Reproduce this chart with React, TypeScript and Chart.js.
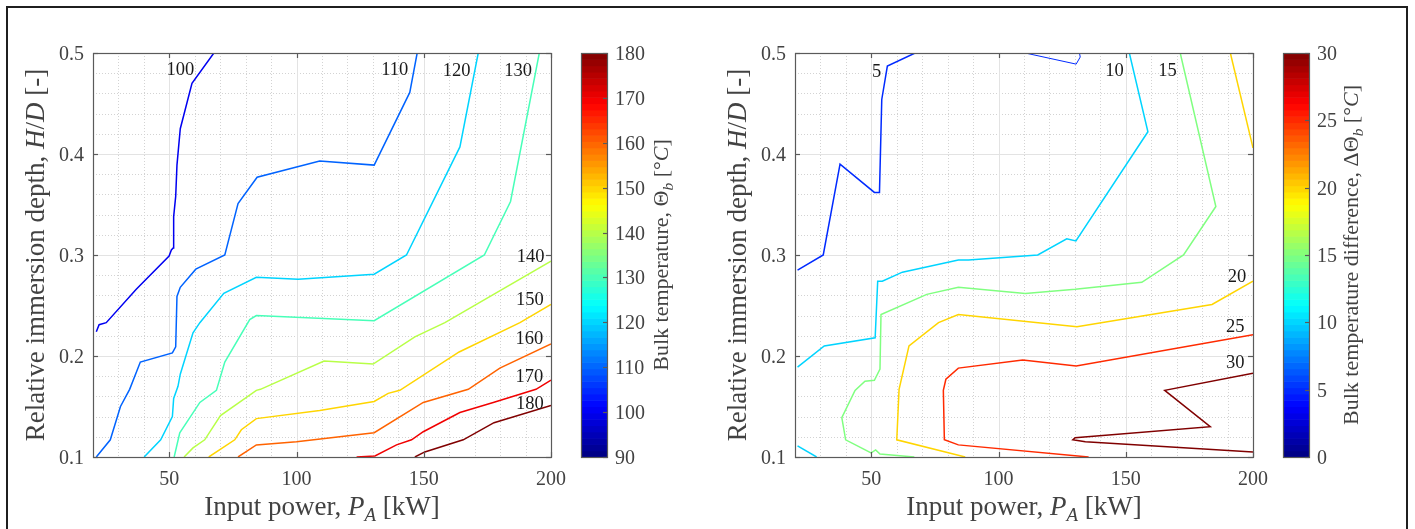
import React, { useEffect, useRef } from 'react';
import { Chart, registerables } from 'chart.js';

Chart.register(...registerables);

// ---------------- axis ticks ----------------
const xMajorTicks = [50, 100, 150, 200];
const xMinorTicks = [30, 40, 60, 70, 80, 90, 110, 120, 130, 140, 160, 170, 180, 190];
const yMajorTicks = [0.1, 0.2, 0.3, 0.4, 0.5];
const yMinorTicks = [0.12, 0.14, 0.16, 0.18, 0.22, 0.24, 0.26, 0.28, 0.32, 0.34, 0.36, 0.38, 0.42, 0.44, 0.46, 0.48];
const tempBarTicks = [90, 100, 110, 120, 130, 140, 150, 160, 170, 180];
const diffBarTicks = [0, 5, 10, 15, 20, 25, 30];

// ---------------- left panel: bulk temperature contours [P_A kW, H/D] ----------------
const temp100: [number, number][] = [[21.3, 0.224], [22.4, 0.231], [25.2, 0.233], [37.0, 0.266], [49.9, 0.299], [50.8, 0.305], [51.5, 0.307], [51.7, 0.338], [52.5, 0.358], [53.0, 0.389], [54.3, 0.425], [58.9, 0.470], [67.5, 0.5]];
const temp110: [number, number][] = [[21.3, 0.1], [26.8, 0.117], [30.8, 0.150], [34.4, 0.167], [38.6, 0.194], [51.2, 0.203], [52.5, 0.209], [53.0, 0.259], [54.3, 0.268], [60.4, 0.286], [71.8, 0.300], [77.0, 0.351], [84.5, 0.377], [109.1, 0.393], [130.5, 0.389], [144.5, 0.461], [147.4, 0.5]];
const temp120: [number, number][] = [[40.1, 0.1], [46.6, 0.117], [51.2, 0.140], [51.7, 0.158], [53.4, 0.170], [54.3, 0.182], [59.3, 0.223], [62.0, 0.233], [71.4, 0.262], [84.2, 0.278], [100.6, 0.276], [130.5, 0.281], [143.2, 0.300], [164.2, 0.407], [171.4, 0.5]];
const temp130: [number, number][] = [[51.9, 0.1], [54.1, 0.124], [62.0, 0.154], [68.5, 0.166], [71.8, 0.194], [81.6, 0.236], [84.2, 0.240], [130.5, 0.235], [173.8, 0.300], [184.1, 0.353], [195.4, 0.5]];
const temp140: [number, number][] = [[55.8, 0.1], [59.3, 0.109], [63.9, 0.117], [70.1, 0.141], [84.2, 0.166], [85.8, 0.167], [110.8, 0.195], [130.1, 0.192], [146.5, 0.219], [158.3, 0.233], [200, 0.294]];
const temp150: [number, number][] = [[65.5, 0.1], [75.7, 0.117], [78.3, 0.127], [84.2, 0.138], [109.1, 0.146], [130.5, 0.155], [136.0, 0.163], [140.6, 0.166], [163.9, 0.204], [187.8, 0.233], [200, 0.251]];
const temp160: [number, number][] = [[77.0, 0.1], [84.2, 0.112], [100.0, 0.115], [130.5, 0.124], [149.8, 0.154], [167.5, 0.167], [179.9, 0.188], [200, 0.212]];
const temp170: [number, number][] = [[123.6, 0.1], [130.8, 0.101], [139.3, 0.112], [145.2, 0.117], [149.8, 0.125], [164.2, 0.144], [177.3, 0.154], [194.1, 0.167], [200, 0.176]];
const temp180: [number, number][] = [[146.5, 0.1], [150.4, 0.105], [165.5, 0.117], [177.6, 0.134], [200, 0.151]];

const tempLabelText = ['100', '110', '120', '130', '140', '150', '160', '170', '180'];
const tempLabelP = [54.3, 138.6, 162.9, 187.1, 192.0, 191.7, 191.5, 191.5, 191.7];
const tempLabelH = [0.485, 0.4845, 0.4835, 0.4835, 0.300, 0.2574, 0.2188, 0.1805, 0.154];

// ---------------- right panel: bulk temperature difference contours ----------------
const diff5a: [number, number][] = [[21.0, 0.285], [31.1, 0.300], [37.7, 0.390], [51.2, 0.362], [53.2, 0.362], [54.1, 0.454], [56.3, 0.487], [67.2, 0.5]];
const diff5b: [number, number][] = [[110.5, 0.5], [130.5, 0.489], [132.1, 0.496], [131.8, 0.5]];
const diff10a: [number, number][] = [[21.0, 0.189], [31.5, 0.210], [51.5, 0.218], [52.5, 0.274], [54.3, 0.274], [62.2, 0.283], [84.2, 0.295], [88.2, 0.295], [115.4, 0.300], [126.8, 0.316], [130.4, 0.314], [158.7, 0.422], [151.4, 0.5]];
const diff10b: [number, number][] = [[21.0, 0.111], [28.5, 0.1]];
const diff15: [number, number][] = [[171.4, 0.5], [185.4, 0.348], [172.7, 0.300], [156.3, 0.273], [130.1, 0.266], [110.5, 0.262], [84.2, 0.268], [71.8, 0.261], [53.8, 0.241], [53.4, 0.187], [51.2, 0.176], [47.5, 0.175], [43.6, 0.166], [38.4, 0.139], [39.9, 0.117], [49.9, 0.104], [51.7, 0.107], [53.4, 0.103], [66.9, 0.1]];
const diff20a: [number, number][] = [[191.1, 0.5], [200, 0.406]];
const diff20b: [number, number][] = [[86.9, 0.1], [60.0, 0.117], [60.9, 0.167], [64.8, 0.210], [76.4, 0.233], [84.2, 0.241], [130.8, 0.229], [183.9, 0.251], [200, 0.274]];
const diff25: [number, number][] = [[135.4, 0.1], [84.2, 0.112], [78.7, 0.117], [78.3, 0.166], [79.3, 0.177], [84.2, 0.188], [109.5, 0.196], [130.5, 0.190], [200, 0.221]];
const diff30: [number, number][] = [[200, 0.183], [165.3, 0.166], [183.2, 0.130], [130.1, 0.119], [129.2, 0.117], [134.1, 0.115], [200, 0.105]];

const diffLabelText = ['5', '10', '15', '20', '25', '30'];
const diffLabelP = [52.1, 145.6, 166.4, 193.7, 193.0, 193.0];
const diffLabelH = [0.4825, 0.4835, 0.4835, 0.280, 0.230, 0.1947];

// ---------------- styling helpers ----------------
const FONT = '"Liberation Serif", "Times New Roman", serif';
const TEXT = '#424242';
const AXIS = '#5a5a5a';

function jet(t: number): string {
  const c = (v: number) => Math.round(255 * Math.max(0, Math.min(1, v)));
  return `rgb(${c(1.5 - Math.abs(4 * t - 3))},${c(1.5 - Math.abs(4 * t - 2))},${c(1.5 - Math.abs(4 * t - 1))})`;
}

type Seg = { t: string; it?: boolean; sub?: boolean };

function drawRich(ctx: CanvasRenderingContext2D, segs: Seg[], x: number, y: number, size: number, rotate: boolean, color: string) {
  ctx.save();
  ctx.translate(x, y);
  if (rotate) ctx.rotate(-Math.PI / 2);
  const fontFor = (s: Seg) => `${s.it ? 'italic ' : ''}${s.sub ? size * 0.7 : size}px ${FONT}`;
  let total = 0;
  for (const s of segs) {
    ctx.font = fontFor(s);
    total += ctx.measureText(s.t).width;
  }
  let cx = -total / 2;
  ctx.fillStyle = color;
  ctx.textAlign = 'left';
  ctx.textBaseline = 'alphabetic';
  for (const s of segs) {
    ctx.font = fontFor(s);
    ctx.fillText(s.t, cx, s.sub ? size * 0.22 : 0);
    cx += ctx.measureText(s.t).width;
  }
  ctx.restore();
}

interface PanelCfg {
  id: string;
  area: { left: number; top: number; right: number; bottom: number };
  cbLeft: number;
  cbRight: number;
  cbMin: number;
  cbMax: number;
  cbTicks: number[];
  contours: { level: number; pts: [number, number][]; width?: number }[];
  labelText: string[];
  labelP: number[];
  labelH: number[];
  yTitleX: number;
  cbTitleX: number;
  cbTitle: Seg[];
}

const yTitle: Seg[] = [{ t: 'Relative immersion depth, ' }, { t: 'H', it: true }, { t: '/' }, { t: 'D', it: true }, { t: ' [-]' }];
const xTitle: Seg[] = [{ t: 'Input power, ' }, { t: 'P', it: true }, { t: 'A', it: true, sub: true }, { t: ' [kW]' }];

const leftCfg: PanelCfg = {
  id: 'left',
  area: { left: 93, top: 53, right: 551, bottom: 457 },
  cbLeft: 581,
  cbRight: 607,
  cbMin: 90,
  cbMax: 180,
  cbTicks: tempBarTicks,
  contours: [
    { level: 100, pts: temp100 },
    { level: 110, pts: temp110 },
    { level: 120, pts: temp120 },
    { level: 130, pts: temp130 },
    { level: 140, pts: temp140 },
    { level: 150, pts: temp150 },
    { level: 160, pts: temp160 },
    { level: 170, pts: temp170 },
    { level: 180, pts: temp180 },
  ],
  labelText: tempLabelText,
  labelP: tempLabelP,
  labelH: tempLabelH,
  yTitleX: 44,
  cbTitleX: 668,
  cbTitle: [{ t: 'Bulk temperature, Θ' }, { t: 'b', it: true, sub: true }, { t: ' [°' }, { t: 'C', it: true }, { t: ']' }],
};

const rightCfg: PanelCfg = {
  id: 'right',
  area: { left: 795, top: 53, right: 1253, bottom: 457 },
  cbLeft: 1283,
  cbRight: 1309,
  cbMin: 0,
  cbMax: 30,
  cbTicks: diffBarTicks,
  contours: [
    { level: 5, pts: diff5a },
    { level: 5, pts: diff5b, width: 1 },
    { level: 10, pts: diff10a },
    { level: 10, pts: diff10b },
    { level: 15, pts: diff15 },
    { level: 20, pts: diff20a },
    { level: 20, pts: diff20b },
    { level: 25, pts: diff25 },
    { level: 30, pts: diff30 },
  ],
  labelText: diffLabelText,
  labelP: diffLabelP,
  labelH: diffLabelH,
  yTitleX: 746,
  cbTitleX: 1358,
  cbTitle: [{ t: 'Bulk temperature difference, ΔΘ' }, { t: 'b', it: true, sub: true }, { t: ' [°' }, { t: 'C', it: true }, { t: ']' }],
};

function makeDecor(cfg: PanelCfg) {
  const seg = (ctx: CanvasRenderingContext2D, x1: number, y1: number, x2: number, y2: number) => {
    ctx.beginPath();
    ctx.moveTo(x1, y1);
    ctx.lineTo(x2, y2);
    ctx.stroke();
  };
  return {
    id: 'decor_' + cfg.id,
    beforeDatasetsDraw(chart: any) {
      const { ctx, chartArea: a, scales } = chart;
      const sx = scales.x;
      const sy = scales.y;
      ctx.save();
      ctx.lineWidth = 1;
      // minor grid (dotted)
      ctx.strokeStyle = '#d3d3d3';
      ctx.setLineDash([1, 2]);
      for (const v of xMinorTicks) {
        const px = Math.round(sx.getPixelForValue(v)) + 0.5;
        seg(ctx, px, a.top, px, a.bottom);
      }
      for (const v of yMinorTicks) {
        const py = Math.round(sy.getPixelForValue(v)) + 0.5;
        seg(ctx, a.left, py, a.right, py);
      }
      // major grid (solid)
      ctx.setLineDash([]);
      ctx.strokeStyle = '#e3e3e3';
      for (const v of xMajorTicks) {
        const px = Math.round(sx.getPixelForValue(v)) + 0.5;
        seg(ctx, px, a.top, px, a.bottom);
      }
      for (const v of yMajorTicks) {
        const py = Math.round(sy.getPixelForValue(v)) + 0.5;
        seg(ctx, a.left, py, a.right, py);
      }
      ctx.restore();
    },
    afterDatasetsDraw(chart: any) {
      const { ctx, chartArea: a, scales } = chart;
      const sx = scales.x;
      const sy = scales.y;
      const cb = scales.cb;
      ctx.save();
      // axes box
      ctx.strokeStyle = AXIS;
      ctx.lineWidth = 1.2;
      ctx.strokeRect(a.left + 0.5, a.top + 0.5, a.right - a.left, a.bottom - a.top);
      // inward ticks
      for (const v of xMajorTicks) {
        const px = Math.round(sx.getPixelForValue(v)) + 0.5;
        seg(ctx, px, a.bottom, px, a.bottom - 5);
        seg(ctx, px, a.top, px, a.top + 5);
      }
      for (const v of yMajorTicks) {
        const py = Math.round(sy.getPixelForValue(v)) + 0.5;
        seg(ctx, a.left, py, a.left + 5, py);
        seg(ctx, a.right, py, a.right - 5, py);
      }
      // tick labels
      ctx.fillStyle = TEXT;
      ctx.font = `20px ${FONT}`;
      ctx.textBaseline = 'alphabetic';
      ctx.textAlign = 'center';
      for (const v of xMajorTicks) {
        ctx.fillText(String(v), sx.getPixelForValue(v), a.bottom + 28);
      }
      ctx.textAlign = 'right';
      for (const v of yMajorTicks) {
        ctx.fillText(v.toFixed(1), a.left - 9, sy.getPixelForValue(v) + 7);
      }
      // axis titles
      drawRich(ctx, xTitle, (a.left + a.right) / 2, 515, 27, false, TEXT);
      drawRich(ctx, yTitle, cfg.yTitleX, (a.top + a.bottom) / 2, 27, true, TEXT);

      // contour labels
      ctx.fillStyle = '#1a1a1a';
      ctx.font = `18.5px ${FONT}`;
      ctx.textAlign = 'center';
      for (let i = 0; i < cfg.labelText.length; i++) {
        ctx.fillText(cfg.labelText[i], sx.getPixelForValue(cfg.labelP[i]), sy.getPixelForValue(cfg.labelH[i]) + 6.5);
      }

      // colorbar
      const n = 64;
      const w = cfg.cbRight - cfg.cbLeft;
      for (let i = 0; i < n; i++) {
        const v0 = cfg.cbMin + ((cfg.cbMax - cfg.cbMin) * i) / n;
        const v1 = cfg.cbMin + ((cfg.cbMax - cfg.cbMin) * (i + 1)) / n;
        const y0 = cb.getPixelForValue(v0);
        const y1 = cb.getPixelForValue(v1);
        ctx.fillStyle = jet((i + 0.5) / n);
        ctx.fillRect(cfg.cbLeft, y1, w, y0 - y1 + 0.6);
      }
      ctx.strokeStyle = AXIS;
      ctx.lineWidth = 1.2;
      ctx.strokeRect(cfg.cbLeft + 0.5, a.top + 0.5, w, a.bottom - a.top);
      ctx.fillStyle = TEXT;
      ctx.font = `20px ${FONT}`;
      ctx.textAlign = 'left';
      for (const v of cfg.cbTicks) {
        const py = Math.round(cb.getPixelForValue(v)) + 0.5;
        seg(ctx, cfg.cbRight + 0.5, py, cfg.cbRight - 4, py);
        ctx.fillText(String(v), cfg.cbRight + 8, cb.getPixelForValue(v) + 7);
      }
      drawRich(ctx, cfg.cbTitle, cfg.cbTitleX, (a.top + a.bottom) / 2, 22, true, TEXT);
      ctx.restore();
    },
  };
}

function Panel({ cfg }: { cfg: PanelCfg }) {
  const ref = useRef<HTMLCanvasElement>(null);
  useEffect(() => {
    const W = 1415;
    const H = 529;
    const datasets = cfg.contours.map((c) => ({
      label: String(c.level),
      data: c.pts.map(([x, y]) => ({ x, y })),
      borderColor: jet((c.level - cfg.cbMin) / (cfg.cbMax - cfg.cbMin)),
      borderWidth: c.width ?? 1.5,
      pointRadius: 0,
      fill: false,
      tension: 0,
    }));
    const chart = new Chart(ref.current as HTMLCanvasElement, {
      type: 'line',
      data: { datasets },
      options: {
        animation: false,
        responsive: false,
        maintainAspectRatio: false,
        devicePixelRatio: 1,
        layout: {
          padding: {
            left: cfg.area.left,
            top: cfg.area.top,
            right: W - cfg.area.right,
            bottom: H - cfg.area.bottom,
          },
        },
        scales: {
          x: { type: 'linear', min: 20, max: 200, display: false },
          y: { type: 'linear', min: 0.1, max: 0.5, display: false },
          cb: { type: 'linear', axis: 'y', position: 'right', min: cfg.cbMin, max: cfg.cbMax, display: false },
        },
        plugins: { legend: { display: false }, tooltip: { enabled: false } },
        events: [],
      } as any,
      plugins: [makeDecor(cfg)],
    });
    return () => chart.destroy();
  }, [cfg]);
  return (
    <canvas
      ref={ref}
      width={1415}
      height={529}
      style={{ position: 'absolute', left: 0, top: 0, width: 1415, height: 529 }}
    />
  );
}

export default function App() {
  return (
    <div style={{ position: 'fixed', left: 0, top: 0, width: 1415, height: 529, overflow: 'hidden', background: '#ffffff' }}>
      <div
        style={{
          position: 'absolute',
          left: 6,
          top: 6,
          width: 1402,
          height: 600,
          boxSizing: 'border-box',
          borderTop: '2px solid #1f1f1f',
          borderLeft: '2px solid #1f1f1f',
          borderRight: '2px solid #1f1f1f',
        }}
      />
      <Panel cfg={leftCfg} />
      <Panel cfg={rightCfg} />
    </div>
  );
}
